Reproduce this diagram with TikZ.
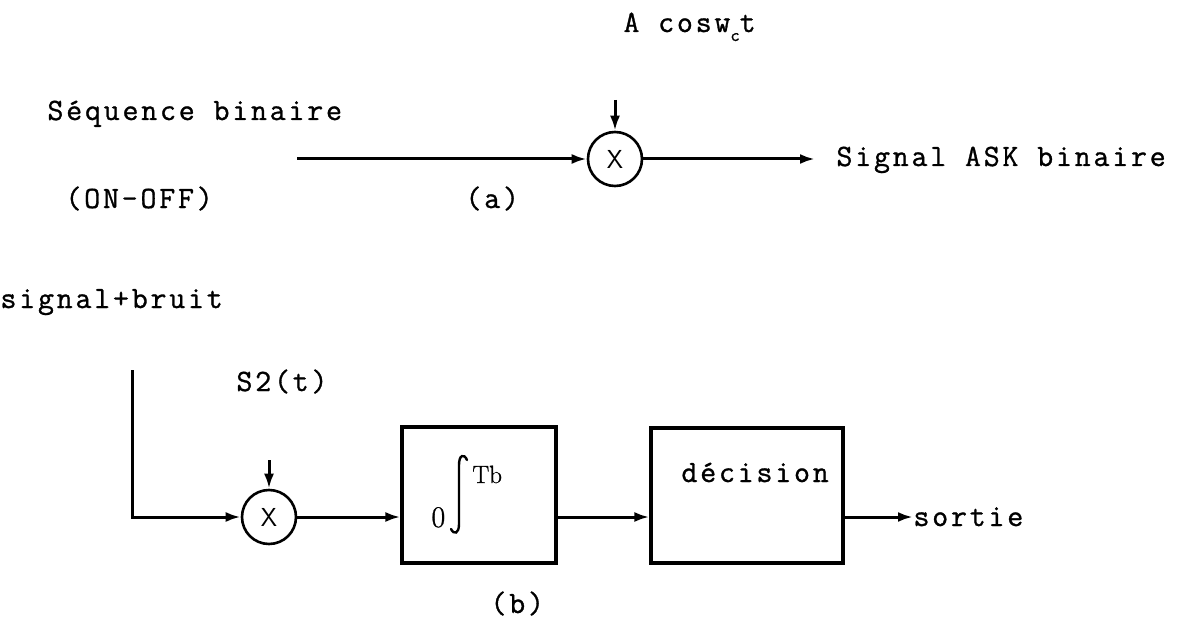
\documentclass[tikz,border=0pt]{standalone}
\usepackage{fontspec}
\newfontfamily\tw{Latin Modern Mono}[LetterSpace=9, FakeBold=1.0]
\newfontfamily\rmx{Latin Modern Roman}[FakeBold=1.0]
\usetikzlibrary{arrows.meta}

\begin{document}
\begin{tikzpicture}[x=1pt,y=-1pt,
  line width=3pt,
  lbl/.style={font=\tw\fontsize{31}{36}\selectfont, inner sep=0pt, anchor=base west},
  mult/.style={draw, circle, minimum size=54pt, inner sep=0pt,
    line width=2.6pt, font=\sffamily\fontsize{26}{28}\selectfont},
  blk/.style={draw, rectangle, inner sep=0pt, line width=3.2pt},
  flow/.style={-{Latex[length=15pt,width=10pt]}},
]
\fill[white] (0,0) rectangle (1195,623);
\useasboundingbox (0,0) rectangle (1195,623);

% ---------- (a) ASK modulator ----------
\node[lbl] (carrier) at (622,32)
  {A cosw{\fontsize{18}{20}\selectfont\raisebox{-9pt}{c}}t};
\node[lbl] (seq) at (46,120) {Séquence binaire};
\node[lbl] (onoff) at (64,208) {(ON-OFF)};
\node[lbl] (capa) at (464,208) {(a)};
\node[mult] (ma) at (615,159) {X};
\node[lbl] (ask) at (835,166) {Signal ASK binaire};

\coordinate (ain) at (297,159);
\coordinate (acar) at (615,100);
\coordinate (aout) at (815,159);

\draw[flow] (ain) -- (ma.west);
\draw[flow] (acar) -- (ma.north);
\draw[flow] (ma.east) -- (aout);

% ---------- (b) coherent receiver ----------
\node[lbl] (rx) at (-1,308) {signal+bruit};
\node[lbl] (s2) at (235,391) {S2(t)};
\node[mult] (mb) at (269,517) {X};
\node[blk, minimum width=154pt, minimum height=136pt] (integ) at (479,495) {};
\node[blk, minimum width=192pt, minimum height=135pt] (dec) at (747,495.5) {};
\node[lbl] (dectxt) at (680,482) {décision};
\node[font=\rmx\fontsize{30}{34}\selectfont, inner sep=0pt, anchor=base west]
  (zero) at (430,527) {0};
\node[font=\rmx\fontsize{25}{28}\selectfont, inner sep=0pt, anchor=base west]
  (tb) at (471,483) {Tb};
\node[lbl] (out) at (912,526) {sortie};
\node[lbl] (capb) at (489,613) {(b)};

% integral sign
\draw[line width=2.4pt, line cap=round]
  (467,460) .. controls (464,453) and (459,455) .. (459,465)
  -- (459,524) .. controls (459,534) and (454,535) .. (451,529);

\coordinate (bin) at (132,370);
\coordinate (bcar) at (269,460);
\coordinate (bout) at (913,517);

\draw[flow] (bin) |- (mb.west);
\draw[flow] (bcar) -- (mb.north);
\draw[flow] (mb.east) -- (mb.east -| integ.west);
\draw[flow] (integ.east |- mb) -- (dec.west |- mb);
\draw[flow] (dec.east |- mb) -- (bout);
\end{tikzpicture}
\end{document}
